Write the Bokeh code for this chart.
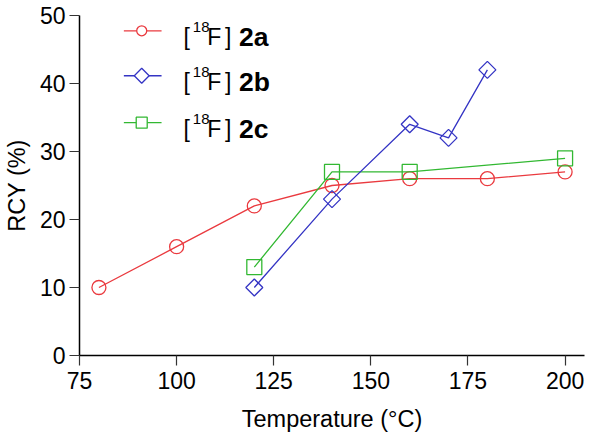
from bokeh.plotting import figure
from bokeh.models import Range1d, Label, FixedTicker
from bokeh.embed import file_html
from bokeh.resources import INLINE
import numpy as np

# ---- data ----
temp_2a = [80, 100, 120, 140, 160, 180, 200]
rcy_2a = [10, 16, 22, 25, 26, 26, 27]
temp_2b = [120, 140, 160, 170, 180]
rcy_2b = [10, 23, 34, 32, 42]
temp_2c = [120, 140, 160, 200]
rcy_2c = [13, 27, 27, 29]
x_ticks = [75, 100, 125, 150, 175, 200]
y_ticks = [0, 10, 20, 30, 40, 50]
series_names = ["2a", "2b", "2c"]

RED = "#ea3a3f"
BLUE = "#3434c4"
GREEN = "#32b832"
FONT = "Liberation Sans"

p = figure(width=590, height=435, output_backend="svg", toolbar_location=None,
           x_range=Range1d(75, 205), y_range=Range1d(0, 50),
           min_border_left=74, min_border_right=6, min_border_top=15, min_border_bottom=80)
p.outline_line_color = None
p.grid.visible = False
p.background_fill_color = "white"

for ax in (p.xaxis[0], p.yaxis[0]):
    ax.axis_line_color = "black"
    ax.axis_line_width = 1.5
    ax.major_tick_line_color = "#333333"
    ax.major_tick_line_width = 1.2
    ax.major_tick_out = 10
    ax.major_tick_in = 0
    ax.minor_tick_line_color = None
    ax.major_label_text_font = FONT
    ax.major_label_text_font_size = "23px"
    ax.major_label_text_color = "black"
    ax.axis_label_text_font = FONT
    ax.axis_label_text_font_size = "23.5px"
    ax.axis_label_text_font_style = "normal"
    ax.axis_label_text_color = "black"

p.xaxis.ticker = FixedTicker(ticks=x_ticks)
p.yaxis.ticker = FixedTicker(ticks=y_ticks)
p.xaxis.axis_label = "Temperature (°C)"
p.yaxis.axis_label = "RCY (%)"
p.xaxis.major_label_standoff = 6
p.xaxis.axis_label_standoff = 14
p.yaxis.major_label_standoff = 4
p.yaxis.axis_label_standoff = 7

lw = 1.3
p.line(temp_2a, rcy_2a, line_color=RED, line_width=lw)
p.scatter(temp_2a, rcy_2a, marker="circle", size=14, fill_color=None,
          line_color=RED, line_width=lw)
p.line(temp_2c, rcy_2c, line_color=GREEN, line_width=lw)
p.scatter(temp_2c, rcy_2c, marker="square", size=15, fill_color=None,
          line_color=GREEN, line_width=lw)
p.line(temp_2b, rcy_2b, line_color=BLUE, line_width=lw)
p.scatter(temp_2b, rcy_2b, marker="square", angle=np.pi / 4, size=12,
          fill_color=None, line_color=BLUE, line_width=lw)

# ---- legend (drawn by hand so the diamond and the superscript look right) ----
def px2x(px):
    return 75 + (px - 82.3) / 3.915

def py2y(py):
    return (356 - py) / 6.806

legend_colors = [RED, BLUE, GREEN]
legend_markers = ["circle", "square", "square"]
legend_angles = [0, np.pi / 4, 0]
legend_sizes = [10, 10.5, 11]
row_centers = [31, 76, 123]

p.segment(x0=[px2x(127)] * 3, x1=[px2x(165)] * 3,
          y0=[py2y(c) for c in row_centers], y1=[py2y(c) for c in row_centers],
          line_color=legend_colors, line_width=lw)
for col, mk, ang, sz, c in zip(legend_colors, legend_markers, legend_angles,
                               legend_sizes, row_centers):
    p.scatter([px2x(145)], [py2y(c)], marker=mk, angle=ang, size=sz,
              fill_color="white", line_color=col, line_width=lw)

for name, c in zip(series_names, row_centers):
    base = c + 6
    parts = [
        ("[", 187.0, 0, "23px", "normal"),
        ("18", 196.5, 10, "15px", "normal"),
        ("F", 211.0, 0, "23px", "normal"),
        ("]", 229.0, 0, "23px", "normal"),
        (name, 243.0, 0, "26.5px", "bold"),
    ]
    for txt, xp, raise_px, fs, style in parts:
        p.add_layout(Label(x=px2x(xp), y=py2y(base - raise_px), text=txt,
                           text_font=FONT, text_font_size=fs,
                           text_font_style=style, text_color="black",
                           text_baseline="alphabetic", text_align="left"))

open("out.html", "w").write(file_html(p, INLINE))
